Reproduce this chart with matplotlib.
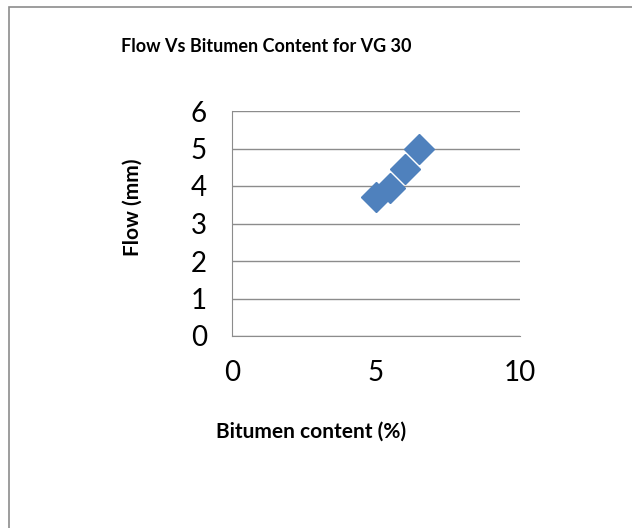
import matplotlib.pyplot as plt
from matplotlib.patches import Rectangle

# Datos
contenido_betun = [5.0, 5.5, 6.0, 6.5]
flujo = [3.7, 3.95, 4.45, 5.0]
x_ticks = [0, 5, 10]
y_ticks = [0, 1, 2, 3, 4, 5, 6]

AZUL = "#4F81BD"
GRIS = "#8C8C8C"
FUENTE = "Lato"

fig = plt.figure(figsize=(6.32, 5.28), dpi=100)
fig.patches.append(Rectangle((9 / 632, -0.05), 1.0, 1 - 7 / 528 + 0.05,
                             transform=fig.transFigure, fill=False,
                             edgecolor=GRIS, linewidth=1.2))

ax = fig.add_axes([232 / 632, 1 - 336 / 528, 288 / 632, 225 / 528])
ax.plot(contenido_betun, flujo, linestyle="none", marker="D", markersize=15.5,
        color=AZUL, markeredgecolor=AZUL)

ax.set_xlim(0, 10)
ax.set_ylim(0, 6)
ax.set_xticks(x_ticks)
ax.set_yticks(y_ticks)
ax.grid(axis="y", color=GRIS, linewidth=1)
ax.set_axisbelow(True)
for lado in ["top", "right"]:
    ax.spines[lado].set_visible(False)
ax.spines["left"].set_color(GRIS)
ax.spines["bottom"].set_color(GRIS)
ax.tick_params(length=0, labelsize=20)
ax.tick_params(axis="x", pad=17)
ax.tick_params(axis="y", pad=18)
for lbl in ax.get_xticklabels() + ax.get_yticklabels():
    lbl.set_fontfamily(FUENTE)

fig.text(266 / 632, 1 - 47 / 528, "Flow Vs Bitumen Content for VG 30",
         ha="center", va="center", fontsize=13, fontweight="bold", family=FUENTE)
fig.text(311 / 632, 1 - 432 / 528, "Bitumen content (%)",
         ha="center", va="center", fontsize=15, fontweight="bold", family=FUENTE)
fig.text(133 / 632, 1 - 207 / 528, "Flow (mm)", rotation=90,
         ha="center", va="center", fontsize=15, fontweight="bold", family=FUENTE)

fig.savefig("out.png", dpi=100)
